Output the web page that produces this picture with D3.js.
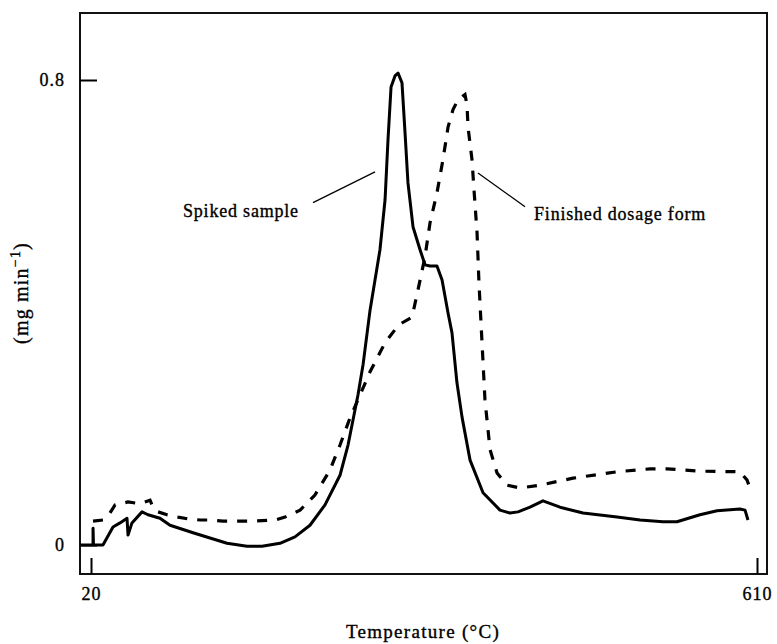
<!DOCTYPE html>
<html lang="en">
<head>
<meta charset="utf-8">
<title>Thermogram</title>
<script src="https://cdn.jsdelivr.net/npm/d3@7"></script>
<style>
    body { margin: 0; background: #fff; }
    text { font-family: "Liberation Serif", "DejaVu Serif", serif; fill: #000; stroke: #000; stroke-width: 0.35px; }
</style>
</head>
<body>
<script>
    // temperature (°C) and rate (mg min-1)
    var spiked_t = [10.3, 21.8, 21.8, 22.2, 30.6, 39.5, 45.7, 51.9, 52.8, 56.3, 65.2, 70.5, 81.1, 90.0,
        110.4, 125.4, 140.5, 158.2, 171.5, 187.4, 200.7, 214.0, 227.3, 240.6, 247.7, 252.1, 256.5,
        261.0, 267.2, 271.6, 276.0, 280.5, 283.1, 285.8, 289.3, 292.0, 295.5, 298.2, 300.8, 305.3,
        311.5, 315.9, 320.3, 326.5, 331.0, 336.3, 339.8, 344.2, 348.7, 355.8, 367.3, 382.3, 391.2,
        398.3, 408.9, 420.4, 435.5, 455.9, 486.0, 506.4, 526.7, 539.1, 559.5, 574.6, 594.9, 599.4, 602.0];
    var spiked_v = [0, 0, 0.029, 0, 0, 0.031, 0.038, 0.046, 0.017, 0.038, 0.057, 0.052, 0.046, 0.034,
        0.021, 0.012, 0.003, -0.002, -0.002, 0.003, 0.014, 0.034, 0.069, 0.120, 0.172, 0.215, 0.258,
        0.310, 0.404, 0.456, 0.508, 0.594, 0.697, 0.788, 0.807, 0.812, 0.795, 0.709, 0.623, 0.547,
        0.508, 0.482, 0.480, 0.480, 0.456, 0.399, 0.365, 0.279, 0.220, 0.146, 0.090, 0.060, 0.055,
        0.057, 0.065, 0.076, 0.065, 0.055, 0.048, 0.043, 0.040, 0.040, 0.052, 0.059, 0.062, 0.060, 0.043];

    var dosage_t = [21.8, 30.6, 36.8, 41.3, 52.8, 63.4, 72.3, 74.9, 79.4, 87.3, 97.1, 105.9, 116.6,
        125.4, 136.9, 163.5, 183.0, 191.9, 205.2, 218.4, 231.7, 240.6, 249.5, 258.3, 267.2, 280.5,
        291.1, 295.5, 304.4, 309.7, 315.9, 320.3, 326.5, 331.8, 336.3, 340.7, 345.1, 351.3, 353.1,
        354.0, 357.5, 359.3, 362.0, 363.7, 366.4, 369.0, 373.5, 379.7, 388.5, 400.1, 417.8, 447.0,
        486.0, 515.2, 530.3, 559.5, 594.9, 601.1, 603.8];
    var dosage_v = [0.041, 0.043, 0.055, 0.069, 0.074, 0.071, 0.077, 0.065, 0.057, 0.052, 0.048, 0.045,
        0.043, 0.043, 0.041, 0.041, 0.043, 0.048, 0.060, 0.086, 0.129, 0.172, 0.219, 0.258, 0.298,
        0.348, 0.375, 0.382, 0.392, 0.439, 0.496, 0.554, 0.606, 0.663, 0.719, 0.749, 0.766, 0.775,
        0.757, 0.719, 0.663, 0.611, 0.537, 0.451, 0.348, 0.250, 0.164, 0.124, 0.103, 0.098, 0.103,
        0.115, 0.126, 0.131, 0.131, 0.127, 0.126, 0.112, 0.098];

    var x_ticks = [20, 610];
    var y_ticks = [0, 0.8];

    var labels = ["Spiked sample", "Finished dosage form"];
    var label_t = [101.5, 412.5];
    var label_v = [0.564, 0.560];
    // leader lines: [t1, v1, t2, v2]
    var leaders = [[216.7, 0.589, 271.6, 0.642], [362.8, 0.640, 404.5, 0.582]];

    var w = 777, h = 644;
    var frame_left = 80, frame_right = 767, frame_top = 13, frame_bottom = 574;

    var x = d3.scaleLinear().domain([20, 610]).range([91, 757]);
    var y = d3.scaleLinear().domain([0, 0.8]).range([545, 80]);

    var svg = d3.select("body").append("svg")
        .attr("width", w)
        .attr("height", h);

    // frame
    svg.append("rect")
        .attr("x", frame_left).attr("y", frame_top)
        .attr("width", frame_right - frame_left).attr("height", frame_bottom - frame_top)
        .attr("fill", "none").attr("stroke", "#111").attr("stroke-width", 2);

    var yAxis = d3.axisLeft(y).tickValues(y_ticks).tickSizeInner(-17).tickSizeOuter(0)
        .tickPadding(15).tickFormat(function(d) { return d === 0 ? "0" : d3.format(".1f")(d); });
    var gy = svg.append("g").attr("transform", "translate(" + frame_left + ",0)").call(yAxis);

    var xAxis = d3.axisBottom(x).tickValues(x_ticks).tickSizeInner(-16).tickSizeOuter(0)
        .tickPadding(13).tickFormat(d3.format("d"));
    var gx = svg.append("g").attr("transform", "translate(0," + frame_bottom + ")").call(xAxis);

    [gx, gy].forEach(function(g) {
        g.select(".domain").remove();
        g.selectAll(".tick line").attr("stroke", "#000").attr("stroke-width", 2);
        g.selectAll(".tick text")
            .style("font-family", "'Liberation Serif', serif")
            .style("font-size", "18px")
            .style("letter-spacing", "1px")
            .attr("fill", "#000");
    });

    var line = d3.line()
        .x(function(d) { return x(d[0]); })
        .y(function(d) { return y(d[1]); });

    svg.append("path")
        .datum(d3.zip(dosage_t, dosage_v))
        .attr("d", line)
        .attr("fill", "none").attr("stroke", "#000")
        .attr("stroke-width", 3.2)
        .attr("stroke-dasharray", "10,10");

    svg.append("path")
        .datum(d3.zip(spiked_t, spiked_v))
        .attr("d", line)
        .attr("fill", "none").attr("stroke", "#000")
        .attr("stroke-width", 3)
        .attr("stroke-linejoin", "round");

    // annotations
    svg.selectAll(".leader")
        .data(leaders)
        .enter().append("line")
        .attr("class", "leader")
        .attr("x1", function(d) { return x(d[0]); })
        .attr("y1", function(d) { return y(d[1]); })
        .attr("x2", function(d) { return x(d[2]); })
        .attr("y2", function(d) { return y(d[3]); })
        .attr("stroke", "#000").attr("stroke-width", 1.3);

    svg.selectAll(".lab")
        .data(labels)
        .enter().append("text")
        .attr("class", "lab")
        .attr("x", function(d, i) { return x(label_t[i]); })
        .attr("y", function(d, i) { return y(label_v[i]); })
        .style("font-size", "18px")
        .style("letter-spacing", "0.8px")
        .text(function(d) { return d; });

    // axis titles
    svg.append("text")
        .attr("x", 423).attr("y", 638)
        .attr("text-anchor", "middle")
        .style("font-size", "19px")
        .style("letter-spacing", "1.3px")
        .text("Temperature (°C)");

    var yt = svg.append("text")
        .attr("transform", "translate(28,293) rotate(-90)")
        .attr("text-anchor", "middle")
        .style("font-size", "20px")
        .style("letter-spacing", "1.2px");
    yt.append("tspan").text("(mg min");
    yt.append("tspan").attr("dy", "-8").style("font-size", "14px").text("\u22121");
    yt.append("tspan").attr("dy", "8").text(")");
</script>
</body>
</html>
